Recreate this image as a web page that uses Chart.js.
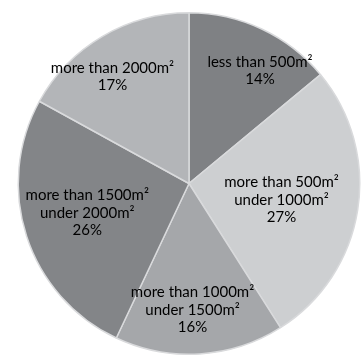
<!DOCTYPE html>
<html>
<head>
<meta charset="utf-8">
<script src="https://cdn.jsdelivr.net/npm/chart.js@4"></script>
<style>
html,body{margin:0;padding:0;background:#fff;}
#wrap{width:361px;height:355px;}
</style>
</head>
<body>
<div id="wrap"><canvas id="c" width="361" height="355"></canvas></div>
<script>
const categories = [
  ["less than 500m²"],
  ["more than 500m²", "under 1000m²"],
  ["more than 1000m²", "under 1500m²"],
  ["more than 1500m²", "under 2000m²"],
  ["more than 2000m²"]
];
const shares = [14, 27, 16, 26, 17];
const colors = ["#7f8184", "#cdcfd1", "#a5a7aa", "#838588", "#b3b5b8"];

const labelPlugin = {
  id: 'sliceLabels',
  afterDatasetsDraw(chart, args, opts) {
    const ctx = chart.ctx;
    const meta = chart.getDatasetMeta(0);
    const data = chart.data.datasets[0].data;
    ctx.save();
    ctx.font = opts.font;
    ctx.fillStyle = opts.color;
    ctx.textAlign = 'center';
    ctx.textBaseline = 'middle';
    meta.data.forEach((arc, i) => {
      const p = arc.getProps(['x','y','startAngle','endAngle','outerRadius'], true);
      const mid = (p.startAngle + p.endAngle) / 2 + (opts.angleShift[i] || 0) * Math.PI / 180;
      const r = p.outerRadius * opts.radial[i];
      const cx = p.x + Math.cos(mid) * r;
      const cy = p.y + Math.sin(mid) * r;
      const lines = chart.data.labels[i].concat([data[i] + '%']);
      const lh = opts.lineHeight;
      const top = cy - (lines.length - 1) * lh / 2;
      lines.forEach((t, k) => ctx.fillText(t, cx, top + k * lh));
    });
    ctx.restore();
  }
};

new Chart(document.getElementById('c'), {
  type: 'pie',
  data: {
    labels: categories,
    datasets: [{
      data: shares,
      backgroundColor: colors,
      borderColor: '#d9dadc',
      borderWidth: 1.5
    }]
  },
  options: {
    responsive: false,
    animation: false,
    layout: { padding: { top: 12, bottom: 0, left: 17, right: 0 } },
    plugins: {
      legend: { display: false },
      tooltip: { enabled: false },
      sliceLabels: {
        font: '15px Lato, "Liberation Sans", sans-serif',
        color: '#000',
        lineHeight: 17.5,
        radial: [0.78, 0.55, 0.74, 0.62, 0.77],
        angleShift: [7, 1, 2, 2, -5]
      }
    }
  },
  plugins: [labelPlugin]
});
</script>
</body>
</html>
